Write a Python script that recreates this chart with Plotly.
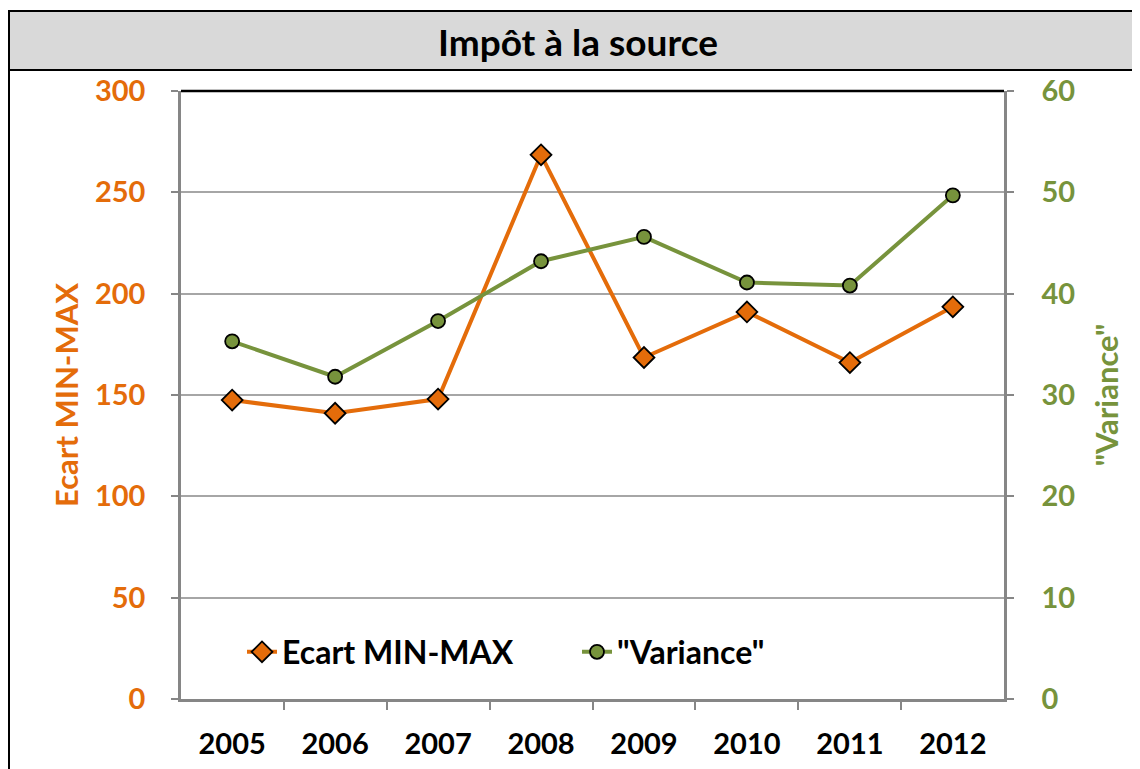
import plotly.graph_objects as go

# Data
years = ["2005", "2006", "2007", "2008", "2009", "2010", "2011", "2012"]
ecart_min_max = [147.5, 141, 148, 268.5, 168.5, 191, 166, 193.5]
variance = [35.3, 31.8, 37.3, 43.2, 45.6, 41.1, 40.8, 49.7]

ORANGE = "#E46C0A"
GREEN = "#77933C"
FONT = "Lato"

# page body margin pushes the figure 8px right/down
OFF = 8

fig = go.Figure()

fig.add_trace(go.Scatter(
    x=years, y=ecart_min_max,
    mode="lines+markers",
    name="Ecart MIN-MAX",
    line=dict(color=ORANGE, width=4),
    marker=dict(symbol="diamond", size=16, color=ORANGE,
                line=dict(color="black", width=1.8)),
))

fig.add_trace(go.Scatter(
    x=years, y=variance,
    mode="lines+markers",
    name='"Variance"',
    line=dict(color=GREEN, width=4),
    marker=dict(symbol="circle", size=14, color=GREEN,
                line=dict(color="black", width=1.8)),
    yaxis="y2",
))

# plot area in page pixels: x 181..1004, y 91..699
plot_w = 1004 - 181
plot_h = 699 - 91


def px_x(px):
    return (px - 181) / plot_w


def px_y(py):
    return (699 - py) / plot_h


fig.update_layout(
    width=1140, height=769,
    margin=dict(l=181 - OFF, r=1140 + OFF - 1004, t=91 - OFF, b=769 + OFF - 699),
    paper_bgcolor="white",
    plot_bgcolor="white",
    font=dict(family=FONT, size=29, color="black", weight="bold"),
    showlegend=True,
    legend=dict(
        orientation="h",
        x=px_x(242), y=px_y(652), xanchor="left", yanchor="middle",
        bgcolor="rgba(0,0,0,0)",
        font=dict(family=FONT, size=32, color="black", weight="bold"),
        entrywidth=290, entrywidthmode="pixels",
    ),
    xaxis=dict(
        type="category",
        showgrid=False,
        showline=True, linecolor="#868686", linewidth=2.5,
        ticks="outside", tickson="boundaries", ticklen=8,
        tickcolor="#868686", tickwidth=2,
        tickfont=dict(family=FONT, size=29, color="black", weight="bold"),
        ticklabelstandoff=17,
    ),
    yaxis=dict(
        range=[0, 300], tickvals=[0, 50, 100, 150, 200, 250, 300],
        showgrid=True, gridcolor="#A6A6A6", gridwidth=2,
        showline=True, linecolor="#868686", linewidth=2.5,
        ticks="outside", ticklen=7, tickcolor="#868686", tickwidth=2,
        tickfont=dict(family=FONT, size=29, color=ORANGE, weight="bold"),
        ticklabelstandoff=20,
        zeroline=False,
        title=dict(text="Ecart MIN-MAX", standoff=8,
                   font=dict(family=FONT, size=31, color=ORANGE, weight="bold")),
    ),
    yaxis2=dict(
        range=[0, 60], tickvals=[0, 10, 20, 30, 40, 50, 60],
        overlaying="y", side="right",
        showgrid=False,
        showline=True, linecolor="#868686", linewidth=2.5,
        ticks="outside", ticklen=7, tickcolor="#868686", tickwidth=2,
        tickfont=dict(family=FONT, size=29, color=GREEN, weight="bold"),
        ticklabelstandoff=22,
        zeroline=False,
        title=dict(text='"Variance"', standoff=22,
                   font=dict(family=FONT, size=31, color=GREEN, weight="bold")),
    ),
    shapes=[
        # outer chart border
        dict(type="rect", xref="paper", yref="paper",
             x0=px_x(9), x1=px_x(1160), y0=px_y(800), y1=px_y(11),
             line=dict(color="black", width=2), fillcolor="rgba(0,0,0,0)",
             layer="below"),
        # title bar
        dict(type="rect", xref="paper", yref="paper",
             x0=px_x(9), x1=px_x(1160), y0=px_y(70), y1=px_y(11),
             line=dict(color="black", width=2), fillcolor="#D9D9D9",
             layer="below"),
        # black top edge of plot area
        dict(type="line", xref="paper", yref="paper",
             x0=0, x1=1, y0=1, y1=1,
             line=dict(color="black", width=2.5)),
    ],
    annotations=[
        dict(text="Impôt à la source", xref="paper", yref="paper",
             x=px_x(578), y=px_y(41), xanchor="center", yanchor="middle",
             showarrow=False,
             font=dict(family=FONT, size=37, color="black", weight="bold")),
    ],
)

fig.write_html("out.html")
